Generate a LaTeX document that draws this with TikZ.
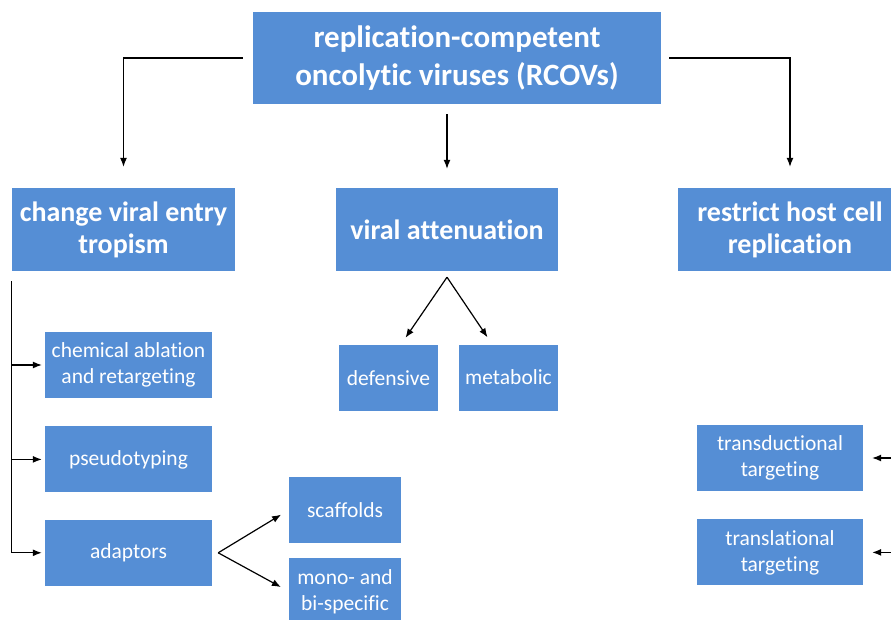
\documentclass[tikz,border=0pt]{standalone}
\usepackage{fontspec}
\setmainfont{Carlito}[Ligatures=CommonOff]
\usepackage{xcolor}
\usetikzlibrary{positioning, arrows.meta}
\definecolor{boxblue}{RGB}{85,142,213}

\begin{document}
\begin{tikzpicture}[
  x=1pt, y=-1pt,
  box/.style={fill=boxblue, text=white, align=center, inner sep=0pt,
              font=\fontsize{21.5}{26}\selectfont},
  head/.style={box, minimum height=83pt,
               font=\bfseries\fontsize{28}{32}\selectfont},
  leaf/.style={box, minimum width=167pt, minimum height=66pt},
  arr/.style={-{Latex[length=9pt,width=7pt]}, line width=1.2pt, draw=black},
]
\useasboundingbox (0,0) rectangle (891,620);
% top level
\node[head, minimum width=408pt, minimum height=92pt,
      font=\bfseries\fontsize{31}{38}\selectfont] (rcov) at (457,58)
  {replication-competent\\oncolytic viruses (RCOVs)};
\node[head, minimum width=223pt] (entry) at (123.5,229.5) {change viral entry\\tropism};
\node[head, minimum width=222pt] (atten) at (447,229.5) {viral attenuation};
\node[head, minimum width=224pt] (host) at (790,229.5) {restrict host cell\\replication};
% entry tropism
\node[leaf] (chem) at (128.5,365) {chemical ablation\\and retargeting};
\node[leaf, below=28pt of chem] (pseudo) {pseudotyping};
\node[leaf, below=27pt of pseudo] (adapt) {adaptors};
\node[box, minimum width=112pt, minimum height=66pt] (scaff) at (345,510) {scaffolds};
\node[box, minimum width=112pt, minimum height=66pt, below=15pt of scaff] (mono) {mono- and\\bi-specific};
% attenuation
\node[box, minimum width=99pt, minimum height=66pt] (def) at (388.5,378) {defensive};
\node[box, minimum width=99pt, minimum height=66pt] (metab) at (508.5,377.5) {metabolic};
% host cell
\node[leaf, minimum width=166pt] (transd) at (780,458) {transductional\\targeting};
\node[leaf, minimum width=166pt, below=28pt of transd] (transl) {translational\\targeting};

\draw[arr, shorten <=10pt, shorten >=21pt] (rcov.west) -| (entry.north);
\draw[arr, shorten <=10pt, shorten >=19pt] (atten.north |- rcov.south) -- (atten.north);
\draw[arr, shorten <=8pt, shorten >=21pt] (rcov.east) -| (host.north);

\coordinate (lt) at ([yshift=-10pt]entry.south west);
\draw[arr, shorten >=3pt] (lt) |- (chem.west);
\draw[arr, shorten >=3pt] (lt) |- (pseudo.west);
\draw[arr, shorten >=3pt] (lt) |- (adapt.west);

\coordinate (ap) at ([yshift=-6pt]atten.south);
\coordinate (dt) at ([xshift=17pt, yshift=7pt]def.north);
\coordinate (mt) at ([xshift=-21pt, yshift=7pt]metab.north);
\draw[arr] (ap) -- (dt);
\draw[arr] (ap) -- (mt);

\coordinate (aa) at ([xshift=6pt]adapt.east);
\draw[arr, shorten >=9pt] (aa) -- (scaff.west);
\draw[arr, shorten >=9pt] (aa) -- (mono.west);

\coordinate (rt) at ([yshift=-10pt]host.south east);
\draw[arr, shorten >=9pt] (rt) |- (transd.east);
\draw[arr, shorten >=9pt] (rt) |- (transl.east);
\end{tikzpicture}
\end{document}
